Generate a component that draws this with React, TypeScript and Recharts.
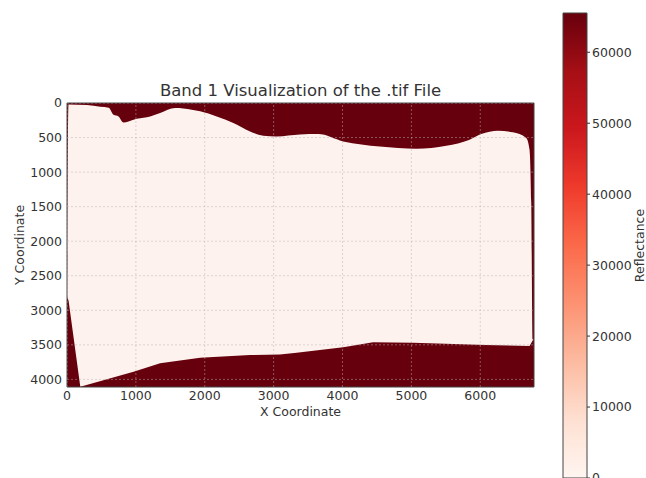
import React from "react";
import { Area, Bar, BarChart, CartesianGrid, ComposedChart, ReferenceArea, ReferenceLine, XAxis, YAxis } from "recharts";

const imageWidth = 6780;
const imageHeight = 4110;
const xTicks = [0, 1000, 2000, 3000, 4000, 5000, 6000];
const yTicks = [0, 500, 1000, 1500, 2000, 2500, 3000, 3500, 4000];

// dark (saturated) pixels above the scanned sheet: y of the sheet's top edge
const topEdge = [
	{ x: 0, y: 2800 },
	{ x: 22, y: 20 },
	{ x: 290, y: 30 },
	{ x: 483, y: 55 },
	{ x: 604, y: 68 },
	{ x: 676, y: 170 },
	{ x: 748, y: 194 },
	{ x: 820, y: 281 },
	{ x: 893, y: 266 },
	{ x: 1014, y: 228 },
	{ x: 1207, y: 194 },
	{ x: 1352, y: 145 },
	{ x: 1570, y: 73 },
	{ x: 1690, y: 78 },
	{ x: 1932, y: 121 },
	{ x: 2174, y: 194 },
	{ x: 2415, y: 290 },
	{ x: 2657, y: 411 },
	{ x: 2850, y: 474 },
	{ x: 3043, y: 484 },
	{ x: 3382, y: 455 },
	{ x: 3647, y: 450 },
	{ x: 4009, y: 556 },
	{ x: 4541, y: 629 },
	{ x: 5072, y: 662 },
	{ x: 5507, y: 619 },
	{ x: 5845, y: 532 },
	{ x: 6014, y: 450 },
	{ x: 6256, y: 401 },
	{ x: 6473, y: 425 },
	{ x: 6667, y: 507 },
	{ x: 6715, y: 677 },
	{ x: 6740, y: 1445 },
	{ x: 6760, y: 3420 },
	{ x: 6780, y: 3430 },
];

// dark pixels below the sheet: y of the sheet's bottom edge
const bottomEdge = [
	{ x: 0, y: 2800 },
	{ x: 23, y: 2860 },
	{ x: 193, y: 4107 },
	{ x: 966, y: 3889 },
	{ x: 1352, y: 3768 },
	{ x: 1932, y: 3687 },
	{ x: 2657, y: 3648 },
	{ x: 3091, y: 3638 },
	{ x: 3333, y: 3614 },
	{ x: 4009, y: 3536 },
	{ x: 4444, y: 3464 },
	{ x: 5023, y: 3470 },
	{ x: 6087, y: 3503 },
	{ x: 6715, y: 3517 },
	{ x: 6765, y: 3430 },
	{ x: 6780, y: 3430 },
];

const reflectanceMax = 65535;
const colorbarTicks = [0, 10000, 20000, 30000, 40000, 50000, 60000];
const colorbarData = [{ name: "Reflectance", value: reflectanceMax }];
const reds = ["#fff5f0", "#fee0d2", "#fcbba1", "#fc9272", "#fb6a4a", "#ef3b2c", "#cb181d", "#a50f15", "#67000d"];

const font = "DejaVu Sans, sans-serif";
const textColor = "#333";
const dark = "#67000d";
const light = "#fdf2ee";
const gridColor = "#b8b0b0";

export default function App() {
	const tick = { fontSize: 12.5, fill: textColor, fontFamily: font };
	return (
		<div style={{ position: "fixed", left: 0, top: 0, width: 646, height: 478, overflow: "hidden", background: "#fff", fontFamily: font }}>
			<div style={{ position: "absolute", left: 67, top: 81, width: 467, textAlign: "center", fontSize: 16.5, lineHeight: "20px", color: textColor }}>
				Band 1 Visualization of the .tif File
			</div>
			<div style={{ position: "absolute", left: 0, top: 0 }}>
				<ComposedChart width={560} height={478} margin={{ top: 103, right: 26, bottom: 61, left: 20 }}>
					<CartesianGrid horizontal={false} vertical={false} fill={light} />
					<XAxis
						type="number"
						dataKey="x"
						domain={[0, imageWidth]}
						ticks={xTicks}
						allowDataOverflow
						height={30}
						tick={tick}
						tickLine={false}
						tickSize={0}
						tickMargin={4}
						axisLine={false}
						label={{ value: "X Coordinate", position: "center", dy: 10, fontSize: 12.5, fill: textColor, fontFamily: font }}
					/>
					<YAxis
						type="number"
						domain={[0, imageHeight]}
						reversed
						ticks={yTicks}
						allowDataOverflow
						width={47}
						tick={tick}
						tickLine={false}
						tickSize={0}
						tickMargin={5}
						axisLine={false}
						label={{ value: "Y Coordinate", angle: -90, position: "center", dx: -23.5, fontSize: 12.5, fill: textColor, fontFamily: font }}
					/>
					<Area data={topEdge} dataKey="y" type="monotone" baseValue={0} stroke="none" fill={dark} fillOpacity={1} isAnimationActive={false} />
					<Area data={bottomEdge} dataKey="y" type="linear" baseValue={imageHeight} stroke="none" fill={dark} fillOpacity={1} isAnimationActive={false} />
					{xTicks.map((v) => (
						<ReferenceLine key={"x" + v} x={v} stroke={gridColor} strokeOpacity={0.6} strokeWidth={0.8} strokeDasharray="2 2" />
					))}
					{yTicks.map((v) => (
						<ReferenceLine key={"y" + v} y={v} stroke={gridColor} strokeOpacity={0.6} strokeWidth={0.8} strokeDasharray="2 2" />
					))}
					<ReferenceArea x1={0} x2={imageWidth} y1={0} y2={imageHeight} fill="none" stroke="#444" strokeWidth={1} />
				</ComposedChart>
			</div>
			<div style={{ position: "absolute", left: 540, top: 0 }}>
				<BarChart width={106} height={490} data={colorbarData} margin={{ top: 13, right: 0, bottom: 12, left: 23 }} barCategoryGap={0}>
					<defs>
						<linearGradient id="redsGrad" x1="0" y1="1" x2="0" y2="0">
							{reds.map((c, i) => (
								<stop key={c} offset={i / (reds.length - 1)} stopColor={c} />
							))}
						</linearGradient>
					</defs>
					<XAxis dataKey="name" hide />
					<YAxis
						orientation="right"
						domain={[0, reflectanceMax]}
						ticks={colorbarTicks}
						width={59}
						tick={tick}
						tickSize={3}
						tickMargin={2}
						tickLine={{ stroke: textColor }}
						axisLine={false}
						label={{ value: "Reflectance", angle: -90, position: "center", dx: 23, fontSize: 12.5, fill: textColor, fontFamily: font }}
					/>
					<Bar dataKey="value" fill="url(#redsGrad)" stroke="#444" strokeWidth={1} isAnimationActive={false} />
				</BarChart>
			</div>
		</div>
	);
}
